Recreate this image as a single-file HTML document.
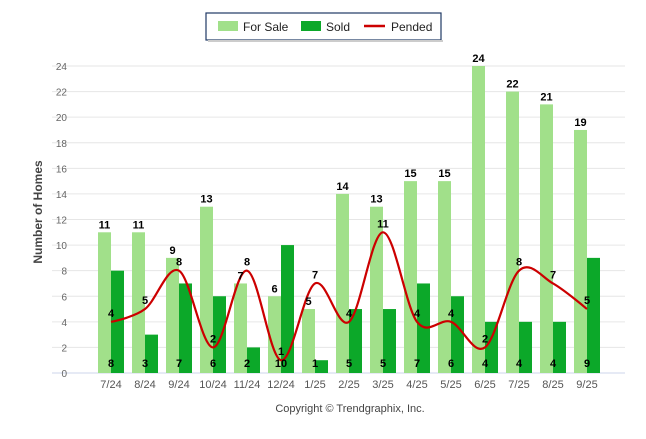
<!DOCTYPE html>
<html><head><meta charset="utf-8"><style>
body{margin:0;background:#fff;font-family:"Liberation Sans",sans-serif}
</style></head><body>
<svg id="c" width="646" height="434" xmlns="http://www.w3.org/2000/svg" style="font-family:'Liberation Sans',sans-serif">
<g>
<rect x="206" y="13" width="235" height="27" fill="#fff" stroke="#1f3864" stroke-width="1.2"/>
<rect x="208" y="40" width="235" height="2" fill="#ccc"/>
<rect x="218" y="21" width="20" height="10" fill="#a1e08a"/>
<text x="243" y="31" font-size="12" fill="#222">For Sale</text>
<rect x="301" y="21" width="20" height="10" fill="#0ca829"/>
<text x="326" y="31" font-size="12" fill="#222">Sold</text>
<line x1="364" y1="26" x2="385" y2="26" stroke="#cc0000" stroke-width="2.5"/>
<text x="391" y="31" font-size="12" fill="#222">Pended</text>
</g>
<text transform="translate(42,212) rotate(-90)" text-anchor="middle" font-size="12" font-weight="bold" fill="#444">Number of Homes</text>
<text x="350" y="412" text-anchor="middle" font-size="11" fill="#444">Copyright © Trendgraphix, Inc.</text>
<g id="grid"></g><g id="bars"></g><g id="line"></g><g id="labels"></g>
</svg>
<script>
const categories=["7/24","8/24","9/24","10/24","11/24","12/24","1/25","2/25","3/25","4/25","5/25","6/25","7/25","8/25","9/25"];
const forSale=[11,11,9,13,7,6,5,14,13,15,15,24,22,21,19];
const sold=[8,3,7,6,2,10,1,5,5,7,6,4,4,4,9];
const pended=[4,5,8,2,8,1,7,4,11,4,4,2,8,7,5];
const yTicks=[0,2,4,6,8,10,12,14,16,18,20,22,24];
const NS="http://www.w3.org/2000/svg";
const y0=373,yTop=66,yMax=24;
function Y(v){return y0-(y0-yTop)*v/yMax;}
function X(i){return 111+34*i;}
function mk(parent,tag,attrs,txt){const e=document.createElementNS(NS,tag);for(const k in attrs)e.setAttribute(k,attrs[k]);if(txt!==undefined)e.textContent=txt;document.getElementById(parent).appendChild(e);return e;}
yTicks.forEach(t=>{
 const l=mk('grid','line',{x1:52,x2:625,y1:Y(t),y2:Y(t),stroke:t===0?'#ccd6eb':'#e6e6e6','stroke-width':1});
 
 
 const tx=mk('grid','text',{x:67,y:Y(t)+4,'text-anchor':'end','font-size':10,fill:'#666'},t);
 
 
});
categories.forEach((c,i)=>{
 const tx=mk('grid','text',{x:X(i),y:388,'text-anchor':'middle','font-size':11,fill:'#555'},c);
 
 
 const b1=mk('bars','rect',{x:X(i)-13,y:Y(forSale[i]),width:13,height:y0-Y(forSale[i]),fill:'#a1e08a'});
 
 
 const b2=mk('bars','rect',{x:X(i),y:Y(sold[i]),width:13,height:y0-Y(sold[i]),fill:'#0ca829'});
 
 
 const l1=mk('labels','text',{x:X(i)-6.5,y:Y(forSale[i])-4,'text-anchor':'middle','font-size':11,'font-weight':'bold',fill:'#000'},forSale[i]);
 
 
 const l2=mk('labels','text',{x:X(i),y:367,'text-anchor':'middle','font-size':11,'font-weight':'bold',fill:'#000'},sold[i]);
 
 
 const l3=mk('labels','text',{x:X(i),y:Y(pended[i])-5,'text-anchor':'middle','font-size':11,'font-weight':'bold',fill:'#000'},pended[i]);
 
 
});
const pts=pended.map((v,i)=>({x:X(i),y:Y(v)}));
function conts(i){
 const p=pts[i],a=pts[i-1],b=pts[i+1];
 if(!a||!b)return{l:{x:p.x,y:p.y},r:{x:p.x,y:p.y}};
 const tx=(b.x-a.x)/6,ty=(b.y-a.y)/6;
 return{l:{x:p.x-tx,y:p.y-ty},r:{x:p.x+tx,y:p.y+ty}};
}
const cs=pts.map((p,i)=>conts(i));
let d=`M${pts[0].x},${pts[0].y}`;
for(let i=1;i<pts.length;i++){d+=` C${cs[i-1].r.x},${cs[i-1].r.y} ${cs[i].l.x},${cs[i].l.y} ${pts[i].x},${pts[i].y}`;}
const path=mk('line','path',{d:d,fill:'none',stroke:'#cc0000','stroke-width':2.2});


</script>
</body></html>
